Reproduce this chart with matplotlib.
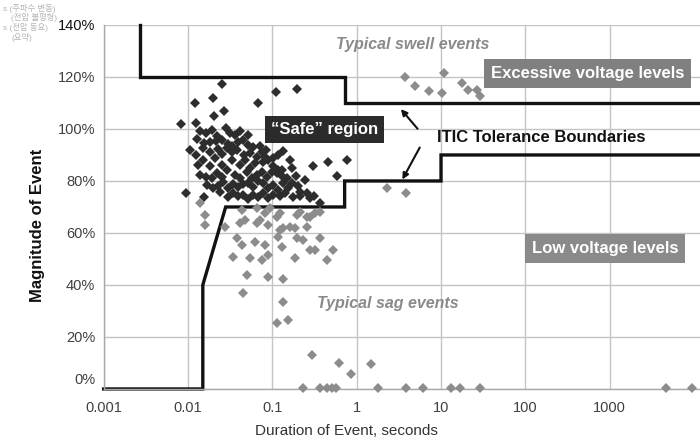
"""
itic_curve.py - Curva de tolerancia ITIC con eventos de swell y sag.
"""

import matplotlib
matplotlib.use("Agg")
import matplotlib.pyplot as plt
import matplotlib.transforms as mtransforms

plt.rcParams["font.family"] = ["Liberation Sans", "Noto Sans CJK KR", "DejaVu Sans"]

# --- datos (duracion en segundos, magnitud en %) ---
# eventos dentro de la region "segura" (oscuros)
safe_dur = [0.0254, 0.0121, 0.0198, 0.0268, 0.0204, 0.0677, 0.111, 0.196, 0.00828, 0.0125,
            0.0164, 0.0221, 0.0315, 0.0414, 0.0515,
            0.0128, 0.0183, 0.0254, 0.0333, 0.0392, 0.0515, 0.0591, 0.0715,
            0.0106, 0.0151, 0.0227, 0.0291, 0.0382, 0.0544, 0.0659, 0.082, 0.102, 0.134,
            0.0151, 0.0209, 0.0333, 0.0475, 0.0624, 0.0776, 0.102, 0.130,
            0.0164, 0.0221, 0.0291, 0.0361, 0.0501, 0.0659, 0.0865, 0.114, 0.149,
            0.0198, 0.0261, 0.0342, 0.0450, 0.0591, 0.0776, 0.102, 0.134, 0.171, 0.213,
            0.024, 0.0342, 0.045, 0.0591, 0.0776, 0.102, 0.141, 0.176, 0.258, 0.28, 0.367,
            0.0095, 0.0155, 0.303, 0.457, 0.584, 0.767,
            0.0139, 0.0283, 0.0193, 0.0361,
            0.0155, 0.0215, 0.0299, 0.045, 0.0842,
            0.0125, 0.0183, 0.0254, 0.0333, 0.0462, 0.0755, 0.117, 0.162,
            0.0132, 0.0183, 0.0254, 0.0414, 0.0544, 0.0889, 0.117, 0.171,
            0.0139, 0.0193, 0.0254, 0.0414, 0.0575, 0.0755, 0.0991, 0.130, 0.191, 0.244,
            0.0168, 0.0227, 0.0299, 0.0392, 0.0515, 0.0677, 0.0889, 0.117, 0.153, 0.201,
            0.0299, 0.0392, 0.0515, 0.0677, 0.0889, 0.123, 0.213, 0.312]
safe_mag = [117.3, 110.0, 111.9, 106.9, 105.0, 110.0, 114.2, 115.4, 101.9, 102.3,
            98.5, 97.3, 98.5, 99.2, 97.7,
            96.2, 95.0, 95.8, 93.5, 95.0, 93.8, 93.1, 93.5,
            91.9, 92.7, 92.3, 92.7, 91.9, 90.8, 89.2, 89.2, 88.8, 91.5,
            88.1, 88.8, 88.1, 88.1, 86.9, 87.3, 85.8, 84.2,
            81.5, 83.1, 84.2, 82.3, 83.5, 82.3, 81.5, 83.1, 81.2,
            77.3, 79.6, 78.8, 78.8, 77.7, 79.2, 78.5, 79.2, 79.2, 75.8,
            75.8, 75.4, 74.6, 74.6, 75.4, 74.6, 75.4, 73.8, 75.4, 73.5, 71.5,
            75.4, 73.8, 85.8, 87.3, 81.9, 88.1,
            99.2, 100.4, 99.6, 97.7,
            94.6, 95.4, 94.2, 95.8, 91.9,
            90.0, 91.2, 90.4, 91.2, 90.0, 91.2, 90.0, 88.1,
            86.2, 85.8, 86.2, 86.2, 85.0, 88.1, 84.2, 85.0,
            82.3, 81.2, 81.5, 81.2, 81.2, 83.5, 83.5, 81.9, 81.9, 80.4,
            78.5, 78.1, 77.3, 77.7, 79.2, 80.0, 77.3, 76.5, 77.3, 78.1,
            73.8, 74.2, 73.1, 73.8, 73.5, 74.2, 74.2, 74.2]

# eventos de sag / swell (grises)
sag_dur = [0.0139, 0.016, 0.016, 0.0275, 0.0434, 0.0475, 0.0653, 0.0659, 0.082, 0.094,
           0.114, 0.123, 0.0889, 0.123, 0.134, 0.162, 0.186, 0.196, 0.213, 0.258,
           0.28, 0.321, 0.367, 0.0414, 0.0715, 0.0382, 0.0438, 0.0624, 0.082, 0.0889,
           0.117, 0.196, 0.231, 0.258, 0.367, 0.28, 0.321, 0.524, 0.445, 0.0342,
           0.0544, 0.0755, 0.130, 0.186, 0.0501, 0.0889, 0.134, 0.045, 0.134, 0.114,
           0.153, 0.295, 0.617, 0.855, 1.48, 2.29, 3.84,
           0.231, 0.367, 0.445, 0.509, 0.569, 1.79, 3.84, 6.1, 13.1, 16.7, 28.9, 4620, 9390]
sag_mag = [71.5, 66.9, 63.1, 62.3, 68.8, 65.0, 69.6, 63.8, 67.7, 69.6,
           66.2, 67.7, 63.1, 61.2, 61.9, 62.3, 61.9, 66.9, 68.2, 66.2,
           66.3, 67.7, 68.1, 63.8, 65.0, 58.1, 55.4, 56.5, 55.4, 51.5,
           58.5, 58.1, 57.3, 62.3, 58.1, 53.5, 53.5, 53.5, 49.6, 50.8,
           50.4, 49.6, 54.6, 50.4, 43.8, 43.1, 42.3, 36.9, 33.5, 25.4,
           26.5, 13.1, 10.0, 5.8, 9.6, 77.3, 75.4,
           0.5, 0.5, 0.5, 0.5, 0.5, 0.5, 0.5, 0.5, 0.5, 0.5, 0.5, 0.5, 0.5]

swell_dur = [3.73, 4.91, 7.19, 10.3, 10.8, 17.7, 20.8, 26.7, 28.9]
swell_mag = [119.8, 116.7, 114.6, 113.8, 121.5, 117.7, 115.0, 115.0, 112.7]

# fronteras ITIC
upper_dur = [0.0027, 0.0027, 0.72, 0.72, 12000]
upper_mag = [140, 120, 120, 110, 110]
lower_dur = [0.001, 0.015, 0.015, 0.028, 0.72, 0.72, 10, 10, 12000]
lower_mag = [0, 0, 40, 70, 70, 80, 80, 90, 90]

x_ticks = [0.001, 0.01, 0.1, 1, 10, 100, 1000]
x_labels = ["0.001", "0.01", "0.1", "1", "10", "100", "1000"]
y_ticks = [0, 20, 40, 60, 80, 100, 120, 140]
y_labels = ["0%", "20%", "40%", "60%", "80%", "100%", "120%", "140%"]

OSCURO = "#2d2d2d"
GRIS = "#8c8c8c"
MS = 5.2

fig = plt.figure(figsize=(7.0, 4.42), dpi=100)
ax = fig.add_axes([0.148, 0.12, 0.852, 0.8235])

ax.set_xscale("log")
ax.set_xlim(0.001, 11750)
ax.set_ylim(0, 140)

ax.set_xticks(x_ticks)
ax.set_xticklabels(x_labels)
ax.minorticks_off()
ax.set_yticks(y_ticks)
ax.set_yticklabels(y_labels)
ax.tick_params(length=0, labelsize=10.5, labelcolor="#404040")
ax.tick_params(axis="x", pad=9)
ax.tick_params(axis="y", pad=6)
ax.grid(True, color="#c4c4c4", linewidth=1)
ax.set_axisbelow(True)

for lado in ["top", "right"]:
    ax.spines[lado].set_visible(False)
for lado in ["left", "bottom"]:
    ax.spines[lado].set_color("#a8a8a8")
    ax.spines[lado].set_linewidth(1)

# "0%" un poco mas arriba y "140%" mas oscuro, como en el original
etiquetas = ax.get_yticklabels()
desplaza = mtransforms.ScaledTranslation(0, 10 / 100, fig.dpi_scale_trans)
etiquetas[0].set_transform(etiquetas[0].get_transform() + desplaza)
etiquetas[-1].set_color("#111111")

# fronteras
ax.plot(upper_dur, upper_mag, color="#111111", lw=2.4, clip_on=False, zorder=2,
        solid_joinstyle="miter")
ax.plot(lower_dur, lower_mag, color="#111111", lw=2.4, clip_on=False, zorder=2,
        solid_joinstyle="miter")

# eventos
ax.plot(safe_dur, safe_mag, "D", color=OSCURO, ms=MS, mew=0, zorder=3)
ax.plot(sag_dur, sag_mag, "D", color=GRIS, ms=MS, mew=0, zorder=4, clip_on=False)
ax.plot(swell_dur, swell_mag, "D", color=GRIS, ms=MS, mew=0, zorder=4)

# textos
ax.text(0.519, 0.945, "Typical swell events", transform=ax.transAxes, ha="center",
        va="center", fontsize=11.5, fontweight="bold", style="italic", color="#8a8a8a")
ax.text(0.477, 0.236, "Typical sag events", transform=ax.transAxes, ha="center",
        va="center", fontsize=11.5, fontweight="bold", style="italic", color="#8a8a8a")
ax.text(0.811, 0.868, "Excessive voltage levels", transform=ax.transAxes, ha="center",
        va="center", fontsize=12, fontweight="bold", color="white", zorder=5,
        bbox=dict(boxstyle="square,pad=0.42", fc="#808080", ec="none"))
ax.text(0.841, 0.385, "Low voltage levels", transform=ax.transAxes, ha="center",
        va="center", fontsize=12, fontweight="bold", color="white", zorder=5,
        bbox=dict(boxstyle="square,pad=0.42", fc="#8a8a8a", ec="none"))
ax.text(0.370, 0.712, "\u201cSafe\u201d region", transform=ax.transAxes, ha="center",
        va="center", fontsize=12, fontweight="bold", color="white", zorder=5,
        bbox=dict(boxstyle="square,pad=0.35", fc="#2b2b2b", ec="none"))
ax.text(0.559, 0.690, "ITIC Tolerance Boundaries", transform=ax.transAxes, ha="left",
        va="center", fontsize=12, fontweight="bold", color="#111111", zorder=5)

flecha = dict(arrowstyle="-|>", color="#111111", lw=1.5, mutation_scale=9)
ax.annotate("", xy=(0.4954, 0.7747), xytext=(0.5295, 0.709), xycoords="axes fraction",
            arrowprops=flecha, zorder=5)
ax.annotate("", xy=(0.4987, 0.5687), xytext=(0.5323, 0.670), xycoords="axes fraction",
            arrowprops=flecha, zorder=5)

ax.set_xlabel("Duration of Event, seconds", fontsize=11, color="#333333")
ax.xaxis.set_label_coords(0.408, -0.095)
ax.set_ylabel("Magnitude of Event", fontsize=12, fontweight="bold", color="#111111")
ax.yaxis.set_label_coords(-0.098, 0.45)

# restos de texto en la esquina superior izquierda
restos = ["s (\uc8fc\ud30c\uc218 \ubcc0\ub3d9)", "(\uc804\uc555 \ubd88\ud3c9\ud615)",
          "s (\uc804\uc555 \ub3d9\uc694)", "(\uc694\uc57d)"]
for i, linea in enumerate(restos):
    fig.text(0.004 + (0.012 if i % 2 else 0), 0.992 - i * 0.022, linea, fontsize=6,
             color="#b4b4b4", va="top", ha="left")

fig.savefig("out.png", dpi=100)
